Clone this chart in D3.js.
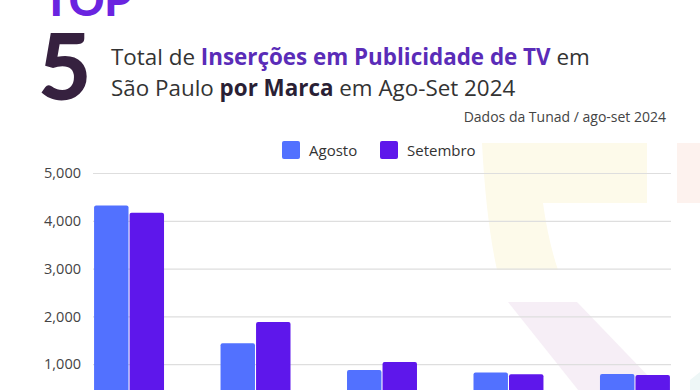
<!DOCTYPE html>
<html lang="pt">
<head>
<meta charset="UTF-8">
<title>Top 5 Inserções TV</title>
<script src="https://d3js.org/d3.v7.min.js"></script>
<style>
  html, body { margin: 0; padding: 0; background: #fff; overflow: hidden; }
  svg { display: block; font-family: "Open Sans", sans-serif; }
</style>
</head>
<body>
<div id="chart"></div>
<script>
// data (brand names are cut off in the reference)
const marcas = ["Marca 1", "Marca 2", "Marca 3", "Marca 4", "Marca 5"];
const agosto = [4320, 1440, 880, 825, 795];
const setembro = [4170, 1885, 1045, 790, 775];
const series = ["Agosto", "Setembro"];
const yTicks = [1000, 2000, 3000, 4000, 5000];

const width = 700, height = 390;
const colors = { Agosto: "#5271ff", Setembro: "#5e17eb" };

const svg = d3.select("#chart").append("svg")
    .attr("width", width)
    .attr("height", height);

// faint logo watermark in the background
const bg = svg.append("g");
bg.append("path")
    .attr("d", "M482,143 L647,143 L647,203 L543,203 Q548,240 558,270 L497,270 Q486,220 482,143 Z")
    .attr("fill", "#fdfaea");
bg.append("path")
    .attr("d", "M508,302 L577,302 L700,430 L610,430 Z")
    .attr("fill", "#f6eef6");
bg.append("rect")
    .attr("x", 677).attr("y", 143).attr("width", 30).attr("height", 60)
    .attr("fill", "#fdf2ee");
bg.append("path")
    .attr("d", "M700,372 L690,380 L690,390 L700,390 Z")
    .attr("fill", "#eef7f7");

// header
svg.append("text")
    .attr("x", 43).attr("y", 16)
    .attr("font-family", "Lato, sans-serif")
    .attr("font-weight", 900)
    .attr("font-size", 44)
    .attr("fill", "#6a24e0")
    .text("TOP");

svg.append("text")
    .attr("x", 38).attr("y", 100)
    .attr("font-family", "Lato, sans-serif")
    .attr("font-weight", 900)
    .attr("font-size", 92)
    .attr("fill", "#36213f")
    .text("5");

const line1 = svg.append("text")
    .attr("x", 111).attr("y", 65)
    .attr("font-size", 22.4)
    .attr("fill", "#333");
line1.append("tspan").text("Total de ");
line1.append("tspan").attr("font-weight", 700).attr("fill", "#5a2cb8")
    .text("Inserções em Publicidade de TV");
line1.append("tspan").text(" em");

const line2 = svg.append("text")
    .attr("x", 111).attr("y", 96)
    .attr("font-size", 22.4)
    .attr("fill", "#333");
line2.append("tspan").text("São Paulo ");
line2.append("tspan").attr("font-weight", 700).attr("fill", "#2a1f35").text("por Marca");
line2.append("tspan").text(" em Ago-Set 2024");

svg.append("text")
    .attr("x", 666).attr("y", 122)
    .attr("text-anchor", "end")
    .attr("font-size", 14)
    .attr("fill", "#444")
    .text("Dados da Tunad / ago-set 2024");

// legend
const legendX = [282, 380];
const legend = svg.selectAll(".legend")
    .data(series)
    .enter().append("g")
    .attr("class", "legend")
    .attr("transform", (d, i) => `translate(${legendX[i]},141)`);
legend.append("rect")
    .attr("width", 18).attr("height", 18).attr("rx", 2)
    .attr("fill", d => colors[d]);
legend.append("text")
    .attr("x", 27).attr("y", 15)
    .attr("font-size", 15)
    .attr("fill", "#333")
    .text(d => d);

// scales
const x0 = d3.scaleBand()
    .domain(marcas)
    .range([93, 671])
    .paddingInner(0.43)
    .paddingOuter(0);

const x1 = d3.scaleBand()
    .domain(series)
    .range([0, x0.bandwidth()])
    .padding(0.03);

const y = d3.scaleLinear()
    .domain([0, 5000])
    .range([412, 173]);

// grid + y axis
const yAxis = svg.append("g")
    .attr("transform", "translate(93,0)")
    .call(d3.axisLeft(y).tickValues(yTicks).tickSize(-578).tickPadding(12)
        .tickFormat(d3.format(",")));
yAxis.select(".domain").remove();
yAxis.selectAll(".tick line").attr("stroke", "#dedede").attr("stroke-width", 1.2);
yAxis.selectAll(".tick text")
    .attr("font-family", "Open Sans, sans-serif")
    .attr("font-size", 14.5)
    .attr("fill", "#444");

// bars
const rows = marcas.map((m, i) => ({ marca: m, Agosto: agosto[i], Setembro: setembro[i] }));

const groups = svg.selectAll(".grupo")
    .data(rows)
    .enter().append("g")
    .attr("class", "grupo")
    .attr("transform", d => `translate(${x0(d.marca)},0)`);

groups.selectAll("rect")
    .data(d => series.map(s => ({ key: s, value: d[s] })))
    .enter().append("rect")
    .attr("x", d => x1(d.key))
    .attr("y", d => y(d.value))
    .attr("width", x1.bandwidth())
    .attr("height", d => y(0) - y(d.value))
    .attr("rx", 2)
    .attr("fill", d => colors[d.key]);
</script>
</body>
</html>
